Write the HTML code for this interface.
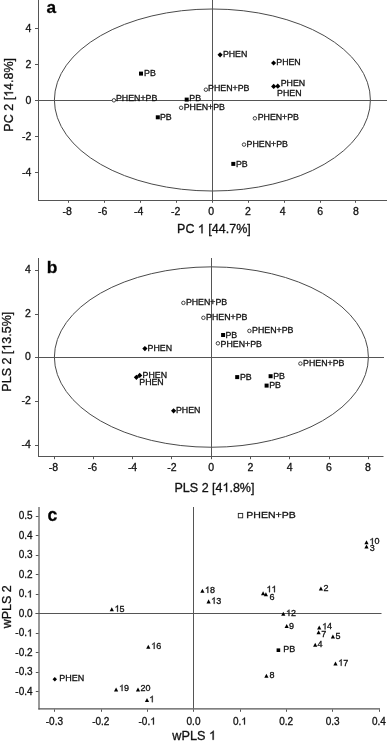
<!DOCTYPE html>
<html><head><meta charset="utf-8"><style>
html,body{margin:0;padding:0;background:#fff;}
body{width:387px;height:741px;overflow:hidden;}
svg{display:block;font-family:"Liberation Sans", sans-serif;will-change:transform;}
text{stroke:#111;stroke-width:0.3px;}
</style></head><body>
<svg width="387" height="741" viewBox="0 0 387 741">
<ellipse cx="212.4" cy="100" rx="158" ry="91" fill="none" stroke="#4a4a4a" stroke-width="1"/>
<line x1="38.5" y1="0" x2="38.5" y2="201" stroke="#555555" stroke-width="1"/>
<line x1="38" y1="200.5" x2="387" y2="200.5" stroke="#555555" stroke-width="1"/>
<line x1="212.5" y1="0" x2="212.5" y2="200.5" stroke="#555555" stroke-width="1"/>
<line x1="35" y1="100.5" x2="387" y2="100.5" stroke="#555555" stroke-width="1"/>
<line x1="68.5" y1="200.5" x2="68.5" y2="202.8" stroke="#555555" stroke-width="1"/>
<text x="67.10" y="214.80" font-size="10.5" text-anchor="middle" fill="#111">-8</text>
<line x1="104.5" y1="200.5" x2="104.5" y2="202.8" stroke="#555555" stroke-width="1"/>
<text x="102.60" y="214.80" font-size="10.5" text-anchor="middle" fill="#111">-6</text>
<line x1="140.5" y1="200.5" x2="140.5" y2="202.8" stroke="#555555" stroke-width="1"/>
<text x="138.75" y="214.80" font-size="10.5" text-anchor="middle" fill="#111">-4</text>
<line x1="176.5" y1="200.5" x2="176.5" y2="202.8" stroke="#555555" stroke-width="1"/>
<text x="175.60" y="214.80" font-size="10.5" text-anchor="middle" fill="#111">-2</text>
<line x1="212.5" y1="200.5" x2="212.5" y2="202.8" stroke="#555555" stroke-width="1"/>
<text x="211.10" y="214.80" font-size="10.5" text-anchor="middle" fill="#111">0</text>
<line x1="248.5" y1="200.5" x2="248.5" y2="202.8" stroke="#555555" stroke-width="1"/>
<text x="247.80" y="214.80" font-size="10.5" text-anchor="middle" fill="#111">2</text>
<line x1="284.5" y1="200.5" x2="284.5" y2="202.8" stroke="#555555" stroke-width="1"/>
<text x="282.70" y="214.80" font-size="10.5" text-anchor="middle" fill="#111">4</text>
<line x1="320.5" y1="200.5" x2="320.5" y2="202.8" stroke="#555555" stroke-width="1"/>
<text x="320.20" y="214.80" font-size="10.5" text-anchor="middle" fill="#111">6</text>
<line x1="355.5" y1="200.5" x2="355.5" y2="202.8" stroke="#555555" stroke-width="1"/>
<text x="355.90" y="214.80" font-size="10.5" text-anchor="middle" fill="#111">8</text>
<line x1="35" y1="28.5" x2="38.5" y2="28.5" stroke="#555555" stroke-width="1"/>
<text x="31.40" y="31.50" font-size="10.5" text-anchor="end" fill="#111">4</text>
<line x1="35" y1="64.5" x2="38.5" y2="64.5" stroke="#555555" stroke-width="1"/>
<text x="31.40" y="67.50" font-size="10.5" text-anchor="end" fill="#111">2</text>
<line x1="35" y1="100.5" x2="38.5" y2="100.5" stroke="#555555" stroke-width="1"/>
<text x="31.40" y="103.50" font-size="10.5" text-anchor="end" fill="#111">0</text>
<line x1="35" y1="136.5" x2="38.5" y2="136.5" stroke="#555555" stroke-width="1"/>
<text x="31.40" y="139.50" font-size="10.5" text-anchor="end" fill="#111">-2</text>
<line x1="35" y1="172.5" x2="38.5" y2="172.5" stroke="#555555" stroke-width="1"/>
<text x="31.40" y="175.50" font-size="10.5" text-anchor="end" fill="#111">-4</text>
<text x="46.40" y="12.50" font-size="17.2" font-weight="bold" fill="#000">a</text>
<text x="213.90" y="233.30" font-size="12.5" text-anchor="middle" fill="#111" id="t1">PC   [44.7%]</text>
<g fill="#111" stroke="#111" stroke-width="49.2"><path transform="translate(197.90 233.30) scale(0.00610 -0.00610)" d="M763 0H583V1147C480 1050 330 975 223 930V1104C380 1180 590 1340 647 1472H763Z"/></g>
<text x="0.00" y="0.00" font-size="12.5" text-anchor="middle" fill="#111" id="t2" transform="translate(13.10 94.80) rotate(-90)">PC 2 [ 4.8%]</text>
<g fill="#111" stroke="#111" stroke-width="49.2" transform="translate(13.10 94.80) rotate(-90)"><path transform="translate(-2.09 0.00) scale(0.00610 -0.00610)" d="M763 0H583V1147C480 1050 330 975 223 930V1104C380 1180 590 1340 647 1472H763Z"/></g>
<rect x="139.00" y="71.60" width="4.00" height="4.00" fill="#000"/>
<text x="144.08" y="75.60" font-size="8.8" fill="#111">PB</text>
<circle cx="113.90" cy="100.30" r="1.75" fill="#fff" stroke="#222" stroke-width="0.85"/>
<text x="115.98" y="101.00" font-size="8.8" fill="#111">PHEN+PB</text>
<rect x="184.70" y="97.60" width="4.00" height="4.00" fill="#000"/>
<text x="189.28" y="101.10" font-size="8.8" fill="#111">PB</text>
<circle cx="181.10" cy="107.80" r="1.75" fill="#fff" stroke="#222" stroke-width="0.85"/>
<text x="183.68" y="110.00" font-size="8.8" fill="#111">PHEN+PB</text>
<rect x="155.80" y="115.30" width="4.00" height="4.00" fill="#000"/>
<text x="159.98" y="119.60" font-size="8.8" fill="#111">PB</text>
<circle cx="205.90" cy="89.70" r="1.75" fill="#fff" stroke="#222" stroke-width="0.85"/>
<text x="208.08" y="91.40" font-size="8.8" fill="#111">PHEN+PB</text>
<path d="M220.10 52.20L222.70 54.80L220.10 57.40L217.50 54.80Z" fill="#000"/>
<text x="222.88" y="57.20" font-size="8.8" fill="#111">PHEN</text>
<path d="M273.60 60.40L276.20 63.00L273.60 65.60L271.00 63.00Z" fill="#000"/>
<text x="276.28" y="65.20" font-size="8.8" fill="#111">PHEN</text>
<path d="M273.70 83.80L276.30 86.40L273.70 89.00L271.10 86.40Z" fill="#000"/>
<text x="280.68" y="86.40" font-size="8.8" fill="#111">PHEN</text>
<path d="M277.80 83.60L280.40 86.20L277.80 88.80L275.20 86.20Z" fill="#000"/>
<text x="277.08" y="95.70" font-size="8.8" fill="#111">PHEN</text>
<circle cx="254.90" cy="118.30" r="1.75" fill="#fff" stroke="#222" stroke-width="0.85"/>
<text x="257.68" y="120.10" font-size="8.8" fill="#111">PHEN+PB</text>
<circle cx="244.00" cy="144.60" r="1.75" fill="#fff" stroke="#222" stroke-width="0.85"/>
<text x="246.58" y="146.80" font-size="8.8" fill="#111">PHEN+PB</text>
<rect x="231.30" y="161.90" width="4.00" height="4.00" fill="#000"/>
<text x="235.98" y="166.60" font-size="8.8" fill="#111">PB</text>
<ellipse cx="211.4" cy="357.05" rx="157" ry="90.2" fill="none" stroke="#4a4a4a" stroke-width="1"/>
<line x1="38.5" y1="258" x2="38.5" y2="457" stroke="#555555" stroke-width="1"/>
<line x1="38" y1="456.5" x2="383.5" y2="456.5" stroke="#555555" stroke-width="1"/>
<line x1="211.5" y1="258" x2="211.5" y2="456.5" stroke="#555555" stroke-width="1"/>
<line x1="35" y1="357.5" x2="384" y2="357.5" stroke="#555555" stroke-width="1"/>
<line x1="54.5" y1="456.5" x2="54.5" y2="459.2" stroke="#555555" stroke-width="1"/>
<text x="53.35" y="471.00" font-size="10.5" text-anchor="middle" fill="#111">-8</text>
<line x1="93.5" y1="456.5" x2="93.5" y2="459.2" stroke="#555555" stroke-width="1"/>
<text x="92.45" y="471.00" font-size="10.5" text-anchor="middle" fill="#111">-6</text>
<line x1="132.5" y1="456.5" x2="132.5" y2="459.2" stroke="#555555" stroke-width="1"/>
<text x="132.55" y="471.00" font-size="10.5" text-anchor="middle" fill="#111">-4</text>
<line x1="171.5" y1="456.5" x2="171.5" y2="459.2" stroke="#555555" stroke-width="1"/>
<text x="171.90" y="471.00" font-size="10.5" text-anchor="middle" fill="#111">-2</text>
<line x1="211.5" y1="456.5" x2="211.5" y2="459.2" stroke="#555555" stroke-width="1"/>
<text x="211.10" y="471.00" font-size="10.5" text-anchor="middle" fill="#111">0</text>
<line x1="250.5" y1="456.5" x2="250.5" y2="459.2" stroke="#555555" stroke-width="1"/>
<text x="250.40" y="471.00" font-size="10.5" text-anchor="middle" fill="#111">2</text>
<line x1="289.5" y1="456.5" x2="289.5" y2="459.2" stroke="#555555" stroke-width="1"/>
<text x="289.70" y="471.00" font-size="10.5" text-anchor="middle" fill="#111">4</text>
<line x1="329.5" y1="456.5" x2="329.5" y2="459.2" stroke="#555555" stroke-width="1"/>
<text x="328.80" y="471.00" font-size="10.5" text-anchor="middle" fill="#111">6</text>
<line x1="368.5" y1="456.5" x2="368.5" y2="459.2" stroke="#555555" stroke-width="1"/>
<text x="367.90" y="471.00" font-size="10.5" text-anchor="middle" fill="#111">8</text>
<line x1="35" y1="270.5" x2="38.5" y2="270.5" stroke="#555555" stroke-width="1"/>
<text x="30.80" y="272.99" font-size="10.5" text-anchor="end" fill="#111">4</text>
<line x1="35" y1="314.5" x2="38.5" y2="314.5" stroke="#555555" stroke-width="1"/>
<text x="30.80" y="316.67" font-size="10.5" text-anchor="end" fill="#111">2</text>
<line x1="35" y1="357.5" x2="38.5" y2="357.5" stroke="#555555" stroke-width="1"/>
<text x="30.80" y="360.35" font-size="10.5" text-anchor="end" fill="#111">0</text>
<line x1="35" y1="401.5" x2="38.5" y2="401.5" stroke="#555555" stroke-width="1"/>
<text x="30.80" y="404.03" font-size="10.5" text-anchor="end" fill="#111">-2</text>
<line x1="35" y1="445.5" x2="38.5" y2="445.5" stroke="#555555" stroke-width="1"/>
<text x="30.80" y="447.71" font-size="10.5" text-anchor="end" fill="#111">-4</text>
<text x="46.80" y="273.10" font-size="17.4" font-weight="bold" fill="#000">b</text>
<text x="214.50" y="491.70" font-size="12.5" text-anchor="middle" fill="#111" id="t3">PLS 2 [4 .8%]</text>
<g fill="#111" stroke="#111" stroke-width="49.2"><path transform="translate(222.48 491.70) scale(0.00610 -0.00610)" d="M763 0H583V1147C480 1050 330 975 223 930V1104C380 1180 590 1340 647 1472H763Z"/></g>
<text x="0.00" y="0.00" font-size="12.5" text-anchor="middle" fill="#111" id="t4" transform="translate(11.10 351.70) rotate(-90)">PLS 2 [ 3.5%]</text>
<g fill="#111" stroke="#111" stroke-width="49.2" transform="translate(11.10 351.70) rotate(-90)"><path transform="translate(1.02 0.00) scale(0.00610 -0.00610)" d="M763 0H583V1147C480 1050 330 975 223 930V1104C380 1180 590 1340 647 1472H763Z"/></g>
<circle cx="183.40" cy="302.90" r="1.75" fill="#fff" stroke="#222" stroke-width="0.85"/>
<text x="185.88" y="305.10" font-size="8.8" fill="#111">PHEN+PB</text>
<circle cx="203.40" cy="317.80" r="1.75" fill="#fff" stroke="#222" stroke-width="0.85"/>
<text x="206.08" y="319.60" font-size="8.8" fill="#111">PHEN+PB</text>
<rect x="221.10" y="333.00" width="4.00" height="4.00" fill="#000"/>
<text x="225.48" y="338.10" font-size="8.8" fill="#111">PB</text>
<circle cx="249.40" cy="330.90" r="1.75" fill="#fff" stroke="#222" stroke-width="0.85"/>
<text x="252.08" y="333.40" font-size="8.8" fill="#111">PHEN+PB</text>
<circle cx="217.90" cy="343.30" r="1.75" fill="#fff" stroke="#222" stroke-width="0.85"/>
<text x="220.58" y="346.60" font-size="8.8" fill="#111">PHEN+PB</text>
<circle cx="300.40" cy="363.60" r="1.75" fill="#fff" stroke="#222" stroke-width="0.85"/>
<text x="303.08" y="366.20" font-size="8.8" fill="#111">PHEN+PB</text>
<rect x="235.20" y="375.10" width="4.00" height="4.00" fill="#000"/>
<text x="239.88" y="380.00" font-size="8.8" fill="#111">PB</text>
<rect x="268.60" y="374.20" width="4.00" height="4.00" fill="#000"/>
<text x="273.18" y="379.30" font-size="8.8" fill="#111">PB</text>
<rect x="264.60" y="383.60" width="4.00" height="4.00" fill="#000"/>
<text x="269.18" y="388.20" font-size="8.8" fill="#111">PB</text>
<path d="M144.90 346.00L147.50 348.60L144.90 351.20L142.30 348.60Z" fill="#000"/>
<text x="147.58" y="351.20" font-size="8.8" fill="#111">PHEN</text>
<path d="M136.40 374.70L139.00 377.30L136.40 379.90L133.80 377.30Z" fill="#000"/>
<path d="M139.70 372.80L142.30 375.40L139.70 378.00L137.10 375.40Z" fill="#000"/>
<text x="142.58" y="377.60" font-size="8.8" fill="#111">PHEN</text>
<text x="139.28" y="385.30" font-size="8.8" fill="#111">PHEN</text>
<path d="M173.60 408.20L176.20 410.80L173.60 413.40L171.00 410.80Z" fill="#000"/>
<text x="175.98" y="413.30" font-size="8.8" fill="#111">PHEN</text>
<line x1="39.0" y1="507" x2="39.0" y2="709.4" stroke="#555555" stroke-width="1.2"/>
<line x1="38.4" y1="708.8" x2="380" y2="708.8" stroke="#555555" stroke-width="1.2"/>
<line x1="193.5" y1="507" x2="193.5" y2="708.5" stroke="#555555" stroke-width="1"/>
<line x1="35.5" y1="613.5" x2="381.5" y2="613.5" stroke="#555555" stroke-width="1"/>
<line x1="54.5" y1="709.4" x2="54.5" y2="711.8" stroke="#555555" stroke-width="1"/>
<text x="54.39" y="724.60" font-size="10.0" text-anchor="middle" fill="#111">-0.3</text>
<line x1="101.5" y1="709.4" x2="101.5" y2="711.8" stroke="#555555" stroke-width="1"/>
<text x="100.76" y="724.60" font-size="10.0" text-anchor="middle" fill="#111">-0.2</text>
<line x1="147.5" y1="709.4" x2="147.5" y2="711.8" stroke="#555555" stroke-width="1"/>
<text x="147.13" y="724.60" font-size="10.0" text-anchor="middle" fill="#111" id="t5">-0. </text>
<g fill="#111" stroke="#111" stroke-width="61.4"><path transform="translate(150.17 724.60) scale(0.00488 -0.00488)" d="M763 0H583V1147C480 1050 330 975 223 930V1104C380 1180 590 1340 647 1472H763Z"/></g>
<line x1="193.5" y1="709.4" x2="193.5" y2="711.8" stroke="#555555" stroke-width="1"/>
<text x="193.50" y="724.60" font-size="10.0" text-anchor="middle" fill="#111">0.0</text>
<line x1="240.5" y1="709.4" x2="240.5" y2="711.8" stroke="#555555" stroke-width="1"/>
<text x="239.87" y="724.60" font-size="10.0" text-anchor="middle" fill="#111" id="t6">0. </text>
<g fill="#111" stroke="#111" stroke-width="61.4"><path transform="translate(241.24 724.60) scale(0.00488 -0.00488)" d="M763 0H583V1147C480 1050 330 975 223 930V1104C380 1180 590 1340 647 1472H763Z"/></g>
<line x1="286.5" y1="709.4" x2="286.5" y2="711.8" stroke="#555555" stroke-width="1"/>
<text x="286.24" y="724.60" font-size="10.0" text-anchor="middle" fill="#111">0.2</text>
<line x1="332.5" y1="709.4" x2="332.5" y2="711.8" stroke="#555555" stroke-width="1"/>
<text x="332.61" y="724.60" font-size="10.0" text-anchor="middle" fill="#111">0.3</text>
<line x1="379.5" y1="709.4" x2="379.5" y2="711.8" stroke="#555555" stroke-width="1"/>
<text x="378.98" y="724.60" font-size="10.0" text-anchor="middle" fill="#111">0.4</text>
<line x1="35.8" y1="516.5" x2="38.6" y2="516.5" stroke="#555555" stroke-width="1"/>
<text x="32.60" y="519.40" font-size="10.0" text-anchor="end" fill="#111">0.5</text>
<line x1="35.8" y1="535.5" x2="38.6" y2="535.5" stroke="#555555" stroke-width="1"/>
<text x="32.60" y="538.90" font-size="10.0" text-anchor="end" fill="#111">0.4</text>
<line x1="35.8" y1="555.5" x2="38.6" y2="555.5" stroke="#555555" stroke-width="1"/>
<text x="32.60" y="558.40" font-size="10.0" text-anchor="end" fill="#111">0.3</text>
<line x1="35.8" y1="574.5" x2="38.6" y2="574.5" stroke="#555555" stroke-width="1"/>
<text x="32.60" y="577.90" font-size="10.0" text-anchor="end" fill="#111">0.2</text>
<line x1="35.8" y1="594.5" x2="38.6" y2="594.5" stroke="#555555" stroke-width="1"/>
<text x="32.60" y="597.40" font-size="10.0" text-anchor="end" fill="#111" id="t7">0. </text>
<g fill="#111" stroke="#111" stroke-width="61.4"><path transform="translate(27.02 597.40) scale(0.00488 -0.00488)" d="M763 0H583V1147C480 1050 330 975 223 930V1104C380 1180 590 1340 647 1472H763Z"/></g>
<line x1="35.8" y1="613.5" x2="38.6" y2="613.5" stroke="#555555" stroke-width="1"/>
<text x="32.60" y="616.90" font-size="10.0" text-anchor="end" fill="#111">0.0</text>
<line x1="35.8" y1="633.5" x2="38.6" y2="633.5" stroke="#555555" stroke-width="1"/>
<text x="32.60" y="636.40" font-size="10.0" text-anchor="end" fill="#111" id="t8">-0. </text>
<g fill="#111" stroke="#111" stroke-width="61.4"><path transform="translate(27.02 636.40) scale(0.00488 -0.00488)" d="M763 0H583V1147C480 1050 330 975 223 930V1104C380 1180 590 1340 647 1472H763Z"/></g>
<line x1="35.8" y1="652.5" x2="38.6" y2="652.5" stroke="#555555" stroke-width="1"/>
<text x="32.60" y="655.90" font-size="10.0" text-anchor="end" fill="#111">-0.2</text>
<line x1="35.8" y1="672.5" x2="38.6" y2="672.5" stroke="#555555" stroke-width="1"/>
<text x="32.60" y="675.40" font-size="10.0" text-anchor="end" fill="#111">-0.3</text>
<line x1="35.8" y1="691.5" x2="38.6" y2="691.5" stroke="#555555" stroke-width="1"/>
<text x="32.60" y="694.90" font-size="10.0" text-anchor="end" fill="#111">-0.4</text>
<text x="47.40" y="520.70" font-size="17.6" font-weight="bold" fill="#000">c</text>
<text x="194.20" y="739.80" font-size="12.7" text-anchor="middle" fill="#111" id="t9">wPLS  </text>
<g fill="#111" stroke="#111" stroke-width="48.4"><path transform="translate(208.99 739.80) scale(0.00620 -0.00620)" d="M763 0H583V1147C480 1050 330 975 223 930V1104C380 1180 590 1340 647 1472H763Z"/></g>
<text x="0.00" y="0.00" font-size="12.5" text-anchor="middle" fill="#111" transform="translate(10.60 606.80) rotate(-90)">wPLS 2</text>
<rect x="238.30" y="513.40" width="4.40" height="4.40" fill="#fff" stroke="#222" stroke-width="0.9"/>
<text x="246.29" y="518.30" font-size="9.9" fill="#111" textLength="49.4" lengthAdjust="spacingAndGlyphs">PHEN+PB</text>
<path d="M111.80 607.20L113.90 611.30L109.70 611.30Z" fill="#000"/>
<text x="114.62" y="611.70" font-size="9.0" fill="#111" id="t10"> 5</text>
<g fill="#111" stroke="#111" stroke-width="68.3"><path transform="translate(114.62 611.70) scale(0.00439 -0.00439)" d="M763 0H583V1147C480 1050 330 975 223 930V1104C380 1180 590 1340 647 1472H763Z"/></g>
<path d="M148.30 644.70L150.40 648.80L146.20 648.80Z" fill="#000"/>
<text x="151.22" y="648.90" font-size="9.0" fill="#111" id="t11"> 6</text>
<g fill="#111" stroke="#111" stroke-width="68.3"><path transform="translate(151.22 648.90) scale(0.00439 -0.00439)" d="M763 0H583V1147C480 1050 330 975 223 930V1104C380 1180 590 1340 647 1472H763Z"/></g>
<path d="M116.10 687.40L118.20 691.50L114.00 691.50Z" fill="#000"/>
<text x="119.12" y="691.10" font-size="9.0" fill="#111" id="t12"> 9</text>
<g fill="#111" stroke="#111" stroke-width="68.3"><path transform="translate(119.12 691.10) scale(0.00439 -0.00439)" d="M763 0H583V1147C480 1050 330 975 223 930V1104C380 1180 590 1340 647 1472H763Z"/></g>
<path d="M138.00 687.50L140.10 691.60L135.90 691.60Z" fill="#000"/>
<text x="140.45" y="691.10" font-size="9.0" fill="#111">20</text>
<path d="M147.00 697.90L149.10 702.00L144.90 702.00Z" fill="#000"/>
<text x="149.32" y="702.20" font-size="9.0" fill="#111" id="t13"> </text>
<g fill="#111" stroke="#111" stroke-width="68.3"><path transform="translate(149.32 702.20) scale(0.00439 -0.00439)" d="M763 0H583V1147C480 1050 330 975 223 930V1104C380 1180 590 1340 647 1472H763Z"/></g>
<path d="M202.40 588.70L204.50 592.80L200.30 592.80Z" fill="#000"/>
<text x="204.92" y="593.00" font-size="9.0" fill="#111" id="t14"> 8</text>
<g fill="#111" stroke="#111" stroke-width="68.3"><path transform="translate(204.92 593.00) scale(0.00439 -0.00439)" d="M763 0H583V1147C480 1050 330 975 223 930V1104C380 1180 590 1340 647 1472H763Z"/></g>
<path d="M208.60 599.30L210.70 603.40L206.50 603.40Z" fill="#000"/>
<text x="211.22" y="603.80" font-size="9.0" fill="#111" id="t15"> 3</text>
<g fill="#111" stroke="#111" stroke-width="68.3"><path transform="translate(211.22 603.80) scale(0.00439 -0.00439)" d="M763 0H583V1147C480 1050 330 975 223 930V1104C380 1180 590 1340 647 1472H763Z"/></g>
<path d="M263.10 591.20L265.20 595.30L261.00 595.30Z" fill="#000"/>
<text x="266.52" y="592.20" font-size="9.0" fill="#111" id="t16">  </text>
<g fill="#111" stroke="#111" stroke-width="68.3"><path transform="translate(266.52 592.20) scale(0.00439 -0.00439)" d="M763 0H583V1147C480 1050 330 975 223 930V1104C380 1180 590 1340 647 1472H763Z"/><path transform="translate(271.52 592.20) scale(0.00439 -0.00439)" d="M763 0H583V1147C480 1050 330 975 223 930V1104C380 1180 590 1340 647 1472H763Z"/></g>
<path d="M265.90 592.20L268.00 596.30L263.80 596.30Z" fill="#000"/>
<text x="269.54" y="600.30" font-size="9.0" fill="#111">6</text>
<path d="M283.30 611.70L285.40 615.80L281.20 615.80Z" fill="#000"/>
<text x="286.02" y="616.10" font-size="9.0" fill="#111" id="t17"> 2</text>
<g fill="#111" stroke="#111" stroke-width="68.3"><path transform="translate(286.02 616.10) scale(0.00439 -0.00439)" d="M763 0H583V1147C480 1050 330 975 223 930V1104C380 1180 590 1340 647 1472H763Z"/></g>
<path d="M286.70 624.00L288.80 628.10L284.60 628.10Z" fill="#000"/>
<text x="288.98" y="628.70" font-size="9.0" fill="#111">9</text>
<path d="M266.40 673.70L268.50 677.80L264.30 677.80Z" fill="#000"/>
<text x="269.61" y="677.60" font-size="9.0" fill="#111">8</text>
<path d="M319.20 625.50L321.30 629.60L317.10 629.60Z" fill="#000"/>
<text x="322.12" y="629.40" font-size="9.0" fill="#111" id="t18"> 4</text>
<g fill="#111" stroke="#111" stroke-width="68.3"><path transform="translate(322.12 629.40) scale(0.00439 -0.00439)" d="M763 0H583V1147C480 1050 330 975 223 930V1104C380 1180 590 1340 647 1472H763Z"/></g>
<path d="M318.60 630.20L320.70 634.30L316.50 634.30Z" fill="#000"/>
<text x="321.24" y="636.90" font-size="9.0" fill="#111">7</text>
<path d="M332.90 634.40L335.00 638.50L330.80 638.50Z" fill="#000"/>
<text x="335.54" y="638.60" font-size="9.0" fill="#111">5</text>
<path d="M315.20 642.70L317.30 646.80L313.10 646.80Z" fill="#000"/>
<text x="317.59" y="646.90" font-size="9.0" fill="#111">4</text>
<path d="M335.50 661.50L337.60 665.60L333.40 665.60Z" fill="#000"/>
<text x="338.22" y="665.80" font-size="9.0" fill="#111" id="t19"> 7</text>
<g fill="#111" stroke="#111" stroke-width="68.3"><path transform="translate(338.22 665.80) scale(0.00439 -0.00439)" d="M763 0H583V1147C480 1050 330 975 223 930V1104C380 1180 590 1340 647 1472H763Z"/></g>
<path d="M320.90 586.50L323.00 590.60L318.80 590.60Z" fill="#000"/>
<text x="323.45" y="590.90" font-size="9.0" fill="#111">2</text>
<path d="M366.50 540.20L368.60 544.30L364.40 544.30Z" fill="#000"/>
<text x="369.42" y="544.40" font-size="9.0" fill="#111" id="t20"> 0</text>
<g fill="#111" stroke="#111" stroke-width="68.3"><path transform="translate(369.42 544.40) scale(0.00439 -0.00439)" d="M763 0H583V1147C480 1050 330 975 223 930V1104C380 1180 590 1340 647 1472H763Z"/></g>
<path d="M366.50 544.40L368.60 548.50L364.40 548.50Z" fill="#000"/>
<text x="369.76" y="551.40" font-size="9.0" fill="#111">3</text>
<path d="M54.80 676.99L57.01 679.20L54.80 681.41L52.59 679.20Z" fill="#000"/>
<text x="59.26" y="681.30" font-size="9.0" fill="#111">PHEN</text>
<rect x="276.60" y="648.40" width="3.60" height="3.60" fill="#000"/>
<text x="283.16" y="652.20" font-size="9.0" fill="#111">PB</text>
</svg>
</body></html>
